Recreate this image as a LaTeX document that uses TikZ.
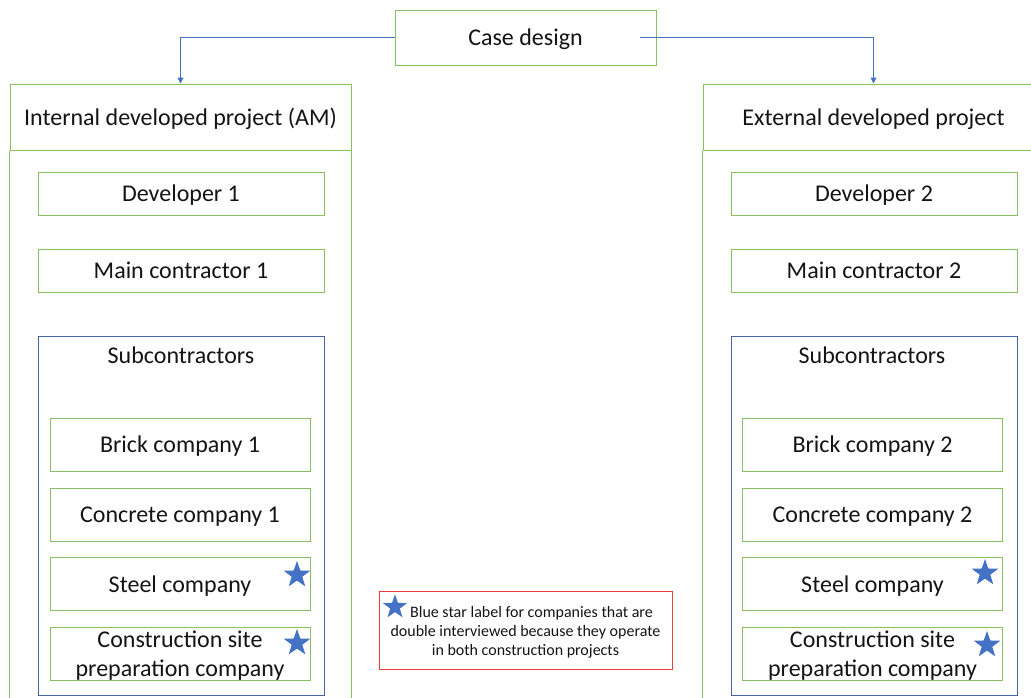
\documentclass[tikz,border=0pt]{standalone}
\usepackage{fontspec}
\setmainfont{Carlito}
\usetikzlibrary{shapes.geometric,arrows.meta}
\definecolor{gr}{RGB}{136,192,96}
\definecolor{bl}{RGB}{68,114,196}
\definecolor{dbl}{RGB}{70,100,170}
\definecolor{rd}{RGB}{235,60,60}
\definecolor{txt}{RGB}{20,20,20}
\begin{document}
\begin{tikzpicture}[x=0.75pt,y=-0.75pt,
  every node/.style={text=txt},
  big/.style={font=\fontsize{18}{21.75}\selectfont},
  one/.style={text height=15.3pt,text depth=3.3pt},
  gbox/.style={draw=gr,line width=0.75pt,inner sep=0pt,big,one},
  gline/.style={draw=gr,line width=0.75pt},
  ibox/.style={gbox,minimum width=214.5pt,minimum height=32.25pt},
  cbox/.style={gbox,minimum width=195pt,minimum height=39.75pt},
  subbox/.style={draw=dbl,line width=0.75pt,inner sep=0pt,minimum width=214.5pt,minimum height=269.25pt},
  bstar/.style={star,star points=5,star point ratio=2.5,fill=bl,draw=none,inner sep=0pt,minimum size=21pt},
  conn/.style={draw=bl,line width=0.75pt,-{Triangle[width=4.5pt,length=4.5pt]}},
  legbox/.style={draw=rd,line width=0.75pt,inner sep=0pt,minimum width=219.75pt,minimum height=58.5pt},
  legtext/.style={align=center,inner sep=0pt,font=\fontsize{12}{14.25}\selectfont}
]
\useasboundingbox (0,0) rectangle (1031,697);
\clip (0,0) rectangle (1031,697);

% top
\node[gbox,minimum width=195.75pt,minimum height=41.25pt] (case) at (525.5,37.5) {Case design};

% left container
\node[gbox,minimum width=255.75pt,minimum height=49.5pt] (hl) at (180.5,117) {Internal developed project (AM)};
\draw[gline] (hl.south west) -- ++(0,620);
\draw[gline] (hl.south east) -- ++(0,620);

% right container
\node[gbox,minimum width=255.75pt,minimum height=49.5pt] (hr) at (873.5,117) {External developed project};
\draw[gline] (hr.south west) -- ++(0,620);
\draw[gline] (hr.south east) -- ++(0,620);

% connectors
\draw[conn] (case.west) -| (hl.north);
\coordinate (rs) at (640,37.5);
\draw[conn] (rs) -| (hr.north);

% left column
\node[ibox] (d1) at (181,193.5) {Developer 1};
\node[ibox] (m1) at (181,270.5) {Main contractor 1};
\node[subbox] (s1) at (181,515.5) {};
\node[big,one,inner sep=0pt] (st1) at (181,355) {Subcontractors};
\node[cbox] (b1) at (180,444.5) {Brick company 1};
\node[cbox] (c1) at (180,514.5) {Concrete company 1};
\node[cbox] (e1) at (180,584) {Steel company};
\node[cbox] (p1) at (180,653.5) {};
\node[big,align=center,inner sep=0pt] (pt1) at (180,655.5) {Construction site\\preparation company};
\node[bstar] (se1) at (297,575) {};
\node[bstar] (sp1) at (297,643) {};

% right column
\node[ibox] (d2) at (874,193.5) {Developer 2};
\node[ibox] (m2) at (874,270.5) {Main contractor 2};
\node[subbox] (s2) at (874,515.5) {};
\node[big,one,inner sep=0pt] (st2) at (872,355) {Subcontractors};
\node[cbox] (b2) at (872.5,444.5) {Brick company 2};
\node[cbox] (c2) at (872.5,514.5) {Concrete company 2};
\node[cbox] (e2) at (872.5,584) {Steel company};
\node[cbox] (p2) at (872.5,653.5) {};
\node[big,align=center,inner sep=0pt] (pt2) at (872.5,655.5) {Construction site\\preparation company};
\node[bstar] (se2) at (985,573) {};
\node[bstar] (sp2) at (987,645) {};

% legend
\node[legbox] (leg) at (525.5,630) {};
\node[legtext] (legt) at (525.5,632) {\hspace{9pt}Blue star label for companies that are\\double interviewed because they operate\\in both construction projects};
\node[bstar,minimum size=19pt] (ls) at (395,607) {};
\end{tikzpicture}
\end{document}
